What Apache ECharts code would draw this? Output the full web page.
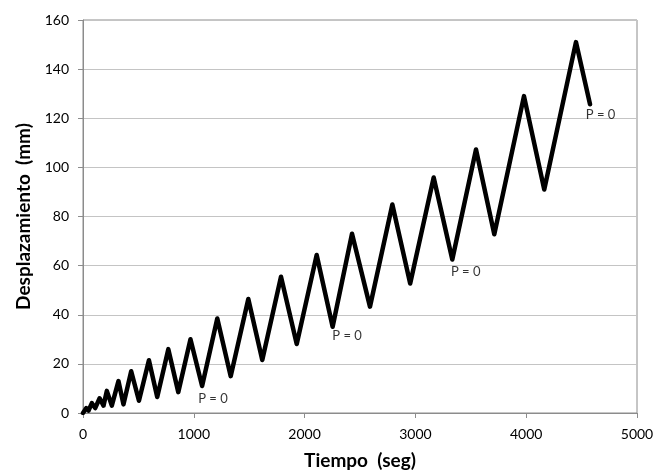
<!DOCTYPE html>
<html>
<head>
<meta charset="utf-8">
<script src="https://cdn.jsdelivr.net/npm/echarts@6/dist/echarts.min.js"></script>
<style>
  html, body { margin: 0; padding: 0; background: #fff; }
  #chart { width: 668px; height: 475px; }
</style>
</head>
<body>
<div id="chart"></div>
<script>
// tiempo (seg) vs desplazamiento (mm)
var tiempo = [0, 30, 50, 80, 110, 150, 185, 215, 260, 320, 365, 435, 505, 595, 670, 770, 860, 970, 1075,
  1212, 1333, 1492, 1618, 1787, 1929, 2109, 2253, 2428, 2590, 2792, 2953, 3165, 3333, 3547, 3712,
  3980, 4163, 4449, 4576];
var desplazamiento = [0, 2, 1, 4, 2, 6, 3, 9, 3, 13, 3.5, 17, 5, 21.5, 6.5, 26, 8.5, 30, 11,
  38.5, 15, 46.4, 21.6, 55.5, 28.1, 64.3, 35.1, 73, 43.3, 84.9, 52.7, 95.9, 62.5, 107.3, 72.8,
  129, 91, 151, 125.7];

// "P = 0" labels
var etiquetaX = [1173, 2383, 3454, 4671];
var etiquetaY = [5.9, 31.3, 57.5, 121.4];

var xTicks = [0, 1000, 2000, 3000, 4000, 5000];
var yTicks = [0, 20, 40, 60, 80, 100, 120, 140, 160];

var curva = [];
for (var i = 0; i < tiempo.length; i++) {
  curva.push([tiempo[i], desplazamiento[i]]);
}
var etiquetas = [];
for (var j = 0; j < etiquetaX.length; j++) {
  etiquetas.push([etiquetaX[j], etiquetaY[j]]);
}

var font = 'Lato, "Open Sans", sans-serif';
var myChart = echarts.init(document.getElementById('chart'));
var option = {
  animation: false,
  grid: {
    left: 83,
    right: 31,
    top: 20,
    bottom: 62,
    show: true,
    borderColor: '#8c8c8c',
    borderWidth: 1
  },
  xAxis: {
    type: 'value',
    min: xTicks[0],
    max: xTicks[xTicks.length - 1],
    interval: 1000,
    name: 'Tiempo  (seg)',
    nameLocation: 'middle',
    nameGap: 38,
    nameTextStyle: { fontFamily: font, fontWeight: 'bold', fontSize: 19, color: '#000' },
    axisLine: { show: true, lineStyle: { color: '#8c8c8c', width: 1 } },
    axisTick: { show: true, length: 5, lineStyle: { color: '#8c8c8c' } },
    axisLabel: {
      fontFamily: font, fontSize: 14, color: '#000', margin: 14,
      formatter: function (v) { return String(v); }
    },
    splitLine: { show: false }
  },
  yAxis: {
    type: 'value',
    min: yTicks[0],
    max: yTicks[yTicks.length - 1],
    interval: 20,
    name: 'Desplazamiento  (mm)',
    nameLocation: 'middle',
    nameRotate: 90,
    nameGap: 50,
    nameTextStyle: { fontFamily: font, fontWeight: 'bold', fontSize: 19, color: '#000' },
    axisLine: { show: true, lineStyle: { color: '#8c8c8c', width: 1 } },
    axisTick: { show: true, length: 5, lineStyle: { color: '#8c8c8c' } },
    axisLabel: { fontFamily: font, fontSize: 14, color: '#000', margin: 14 },
    splitLine: { show: true, lineStyle: { color: '#c4c4c4', width: 1 } }
  },
  series: [
    {
      type: 'line',
      data: curva,
      showSymbol: false,
      lineStyle: { color: '#000', width: 4.5, join: 'round', cap: 'round' },
      z: 3
    },
    {
      type: 'scatter',
      data: etiquetas,
      symbolSize: 0,
      label: {
        show: true,
        position: 'inside',
        formatter: 'P = 0',
        fontFamily: font,
        fontSize: 13,
        color: '#000'
      },
      z: 4
    }
  ]
};
myChart.setOption(option);
</script>
</body>
</html>
